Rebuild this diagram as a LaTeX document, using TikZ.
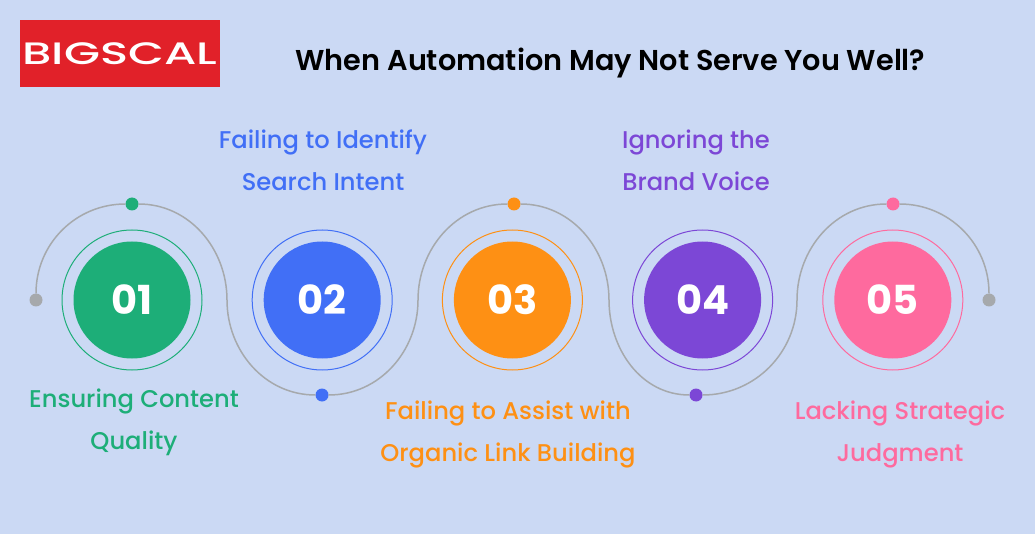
\documentclass[tikz,border=0pt]{standalone}
\usepackage{fontspec}
\setmainfont{Poppins}
\newfontfamily\labelfont{Poppins Medium}
\newfontfamily\headfont{Poppins SemiBold}
\usepackage{xcolor}
\usetikzlibrary{positioning}
\definecolor{bgblue}{HTML}{CBD9F4}
\definecolor{logored}{HTML}{E12129}
\definecolor{wavegray}{HTML}{A6A9AC}
\definecolor{cgreen}{HTML}{1DAE78}
\definecolor{cblue}{HTML}{416FF6}
\definecolor{corange}{HTML}{FE9014}
\definecolor{cpurple}{HTML}{7C47D6}
\definecolor{cpink}{HTML}{FE6A9E}
\tikzstyle{disc} = [circle, minimum size=117pt, inner sep=0pt, text=white, font=\fontsize{40}{40}\selectfont\bfseries]
\tikzstyle{ring} = [circle, draw, line width=1pt, minimum size=140pt, inner sep=0pt]
\tikzstyle{dot} = [circle, minimum size=13pt, inner sep=0pt]
\tikzstyle{label} = [align=center, font=\fontsize{24.2}{42}\labelfont]

\begin{document}
\begin{tikzpicture}[x=1pt, y=-1pt]
		\useasboundingbox [fill=bgblue] (0,0) rectangle (1035,534);

		\node [rectangle, fill=logored, minimum width=200pt, minimum height=67pt, inner sep=0pt] (logo) at (120,53.5) {};
		\node [text=white, font=\fontsize{31}{31}\labelfont, xscale=1.5] (logotext) at (logo.center) {BIGSCAL};
		\node [font=\fontsize{28.7}{32}\headfont] (title) at (610.5,63) {When Automation May Not Serve You Well?};

		% numbered circles
		\node [disc, fill=cgreen] (one) at (132,300) {01};
		\node [disc, fill=cblue, right=72.8pt of one] (two) {02};
		\node [disc, fill=corange, right=72.8pt of two] (three) {03};
		\node [disc, fill=cpurple, right=72.8pt of three] (four) {04};
		\node [disc, fill=cpink, right=72.8pt of four] (five) {05};

		\node [ring, draw=cgreen] (ringone) at (one) {};
		\node [ring, draw=cblue] (ringtwo) at (two) {};
		\node [ring, draw=corange] (ringthree) at (three) {};
		\node [ring, draw=cpurple] (ringfour) at (four) {};
		\node [ring, draw=cpink] (ringfive) at (five) {};

		% dots on the wave
		\node [dot, fill=wavegray] (start) at (36,300) {};
		\node [dot, fill=cgreen] (dotone) at (132,204) {};
		\node [dot, fill=cblue] (dottwo) at (322,395) {};
		\node [dot, fill=corange] (dotthree) at (514,204) {};
		\node [dot, fill=cpurple] (dotfour) at (696,395) {};
		\node [dot, fill=cpink] (dotfive) at (893,204) {};
		\node [dot, fill=wavegray] (end) at (989,300) {};

		\coordinate (joinone) at (227,300);
		\coordinate (jointwo) at (418,300);
		\coordinate (jointhree) at (609,300);
		\coordinate (joinfour) at (797,300);

		\draw [wavegray, line width=1.5pt] (start) to[out=90, in=180] (dotone);
		\draw [wavegray, line width=1.5pt] (dotone) to[out=0, in=90] (joinone) to[out=-90, in=180] (dottwo);
		\draw [wavegray, line width=1.5pt] (dottwo) to[out=0, in=-90] (jointwo) to[out=90, in=180] (dotthree);
		\draw [wavegray, line width=1.5pt] (dotthree) to[out=0, in=90] (jointhree) to[out=-90, in=180] (dotfour);
		\draw [wavegray, line width=1.5pt] (dotfour) to[out=0, in=-90] (joinfour) to[out=90, in=180] (dotfive);
		\draw [wavegray, line width=1.5pt] (dotfive) to[out=0, in=90] (end);

		% labels
		\node [label, text=cgreen] (labelone) at (134,422) {Ensuring Content\\Quality};
		\node [label, text=cblue] (labeltwo) at (323,160) {Failing to Identify\\Search Intent};
		\node [label, text=corange] (labelthree) at (508,434) {Failing to Assist with\\Organic Link Building};
		\node [label, text=cpurple] (labelfour) at (696,160) {Ignoring the\\Brand Voice};
		\node [label, text=cpink] (labelfive) at (900,434) {Lacking Strategic\\Judgment};
	\end{tikzpicture}
\end{document}
